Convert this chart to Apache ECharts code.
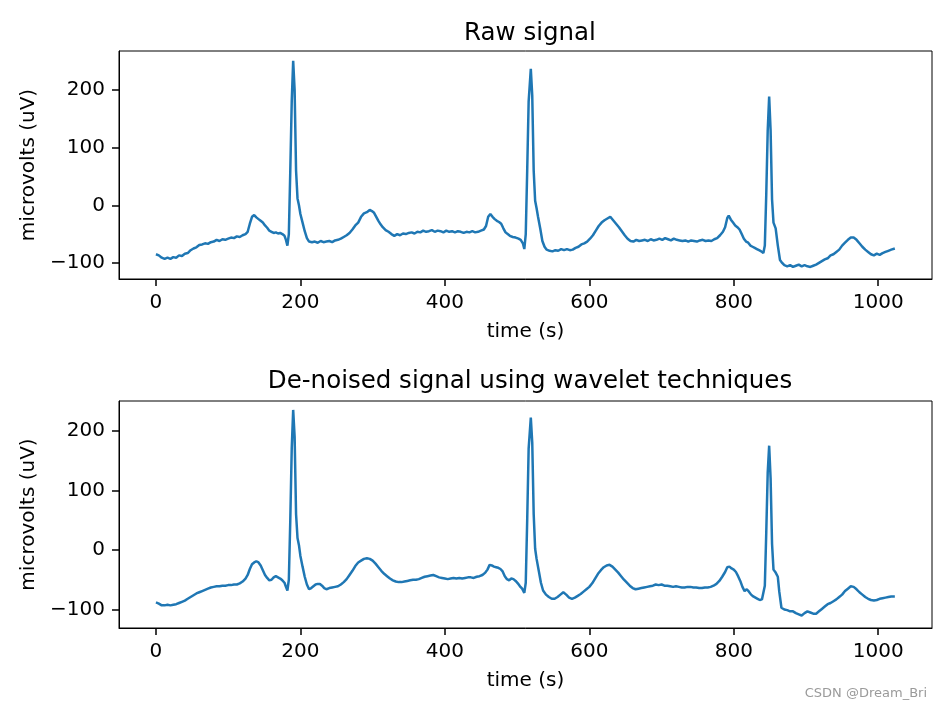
<!DOCTYPE html>
<html>
<head>
<meta charset="utf-8">
<script src="https://cdn.jsdelivr.net/npm/echarts@6/dist/echarts.min.js"></script>
<style>
html,body{margin:0;padding:0;background:#fff;}
#chart{width:944px;height:715px;}
</style>
</head>
<body>
<div id="chart"></div>
<script>
const xTicks = [0, 200, 400, 600, 800, 1000];
const yTicks = [-100, 0, 100, 200];

const rawT = [0,4,8,12,16,20,24,28,32,36,40,44,48,52,56,60,64,68,72,76,80,84,88,92,96,100,104,108,112,116,120,124,127,130,133,136,139,142,145,148,151,154,157,160,163,166,169,172,175,178,180,182,184,186,188,190,192,194,196,198,200,203,206,209,212,216,220,224,228,232,236,240,244,248,252,256,260,264,268,272,276,280,284,288,292,296,299,302,305,308,311,314,318,322,326,330,334,338,342,346,350,354,358,362,366,370,374,378,382,386,390,394,398,402,406,410,414,418,422,426,430,434,438,442,446,450,454,457,460,463,466,469,472,475,478,481,484,487,490,494,498,502,505,508,510,512,514,516,519,521,523,525,527,529,532,535,538,541,545,549,553,557,561,565,569,573,577,581,585,589,593,597,601,605,609,613,617,621,625,629,633,637,641,645,649,653,657,661,665,669,673,677,681,685,689,693,697,701,705,709,713,717,721,725,729,733,737,741,745,749,753,757,761,765,769,773,777,781,785,788,791,793,796,799,802,805,808,811,814,817,820,823,826,829,832,835,838,841,843,845,847,849,851,853,855,858,861,864,867,870,874,878,882,886,890,894,898,902,906,910,914,918,922,926,930,934,938,942,946,950,954,958,962,966,970,974,978,982,986,990,994,998,1002,1006,1010,1014,1018,1023];
const rawV = [-85,-87,-91,-93,-91,-93,-90,-91,-87,-88,-84,-83,-78,-75,-73,-69,-68,-66,-67,-64,-63,-60,-62,-59,-60,-58,-56,-57,-54,-55,-52,-50,-46,-32,-20,-17,-21,-24,-27,-30,-35,-39,-44,-46,-48,-47,-49,-48,-50,-53,-60,-70,-50,60,180,251,200,60,12,0,-15,-30,-45,-57,-63,-64,-63,-65,-62,-64,-63,-62,-64,-61,-60,-58,-55,-52,-48,-42,-35,-30,-20,-14,-12,-8,-10,-13,-20,-27,-33,-38,-43,-46,-50,-53,-50,-52,-49,-50,-48,-47,-49,-46,-47,-44,-46,-45,-43,-46,-44,-45,-47,-44,-46,-45,-47,-45,-46,-48,-46,-47,-45,-47,-46,-44,-42,-36,-20,-15,-20,-24,-27,-29,-32,-40,-47,-50,-53,-55,-56,-58,-60,-66,-76,-50,60,180,237,190,60,8,-5,-20,-40,-62,-72,-77,-79,-80,-78,-79,-76,-78,-76,-78,-77,-74,-72,-68,-66,-63,-58,-52,-44,-36,-30,-26,-23,-20,-26,-32,-38,-45,-52,-58,-62,-63,-60,-62,-61,-60,-62,-59,-61,-60,-58,-60,-57,-59,-61,-58,-60,-61,-62,-61,-63,-61,-62,-63,-61,-60,-62,-61,-62,-59,-57,-52,-46,-38,-22,-18,-25,-30,-35,-38,-42,-50,-58,-63,-65,-70,-72,-74,-76,-78,-80,-83,-70,20,130,189,130,10,-30,-40,-70,-95,-100,-104,-106,-104,-107,-105,-103,-106,-104,-106,-107,-105,-103,-100,-97,-94,-92,-87,-85,-81,-77,-70,-65,-60,-56,-56,-60,-66,-72,-77,-81,-85,-87,-84,-86,-83,-81,-79,-77,-75];

const denT = [0,4,8,12,16,20,24,28,32,36,40,44,48,52,56,60,64,68,72,76,80,84,88,92,96,100,104,108,112,116,120,124,127,130,133,136,139,142,145,148,151,154,157,160,163,166,169,172,175,178,180,182,184,186,188,190,192,194,196,198,200,203,206,209,212,215,218,221,224,227,230,233,236,240,244,248,252,256,260,264,268,272,276,280,284,288,292,296,300,304,308,312,316,320,324,328,332,336,340,344,348,352,356,360,364,368,372,376,380,384,388,392,396,400,404,408,412,416,420,424,428,432,436,440,444,448,452,456,459,462,465,468,471,474,477,480,483,486,489,492,495,498,501,504,507,510,512,514,516,519,521,523,525,527,530,533,536,540,544,548,552,556,560,564,568,572,576,580,584,588,592,596,600,604,608,612,616,620,624,628,632,636,640,644,648,652,656,660,664,668,672,676,680,684,688,692,696,700,704,708,712,716,720,724,728,732,736,740,744,748,752,756,760,764,768,772,776,780,784,788,791,794,797,800,803,806,809,812,815,818,821,824,827,830,833,836,839,841,843,845,847,849,851,853,855,858,861,863,866,870,874,878,882,886,890,894,898,902,906,910,914,918,922,926,930,934,938,942,946,950,954,958,962,966,970,974,978,982,986,990,994,998,1002,1006,1010,1014,1018,1023];
const denV = [-88,-90,-93,-93,-92,-93,-92,-91,-89,-87,-85,-82,-79,-76,-73,-71,-69,-67,-65,-63,-62,-61,-61,-60,-60,-59,-59,-58,-58,-56,-53,-48,-42,-32,-24,-21,-19,-21,-26,-34,-42,-47,-51,-50,-46,-44,-46,-48,-51,-55,-62,-68,-50,50,170,235,190,60,20,8,-10,-28,-45,-58,-66,-64,-61,-58,-57,-57,-60,-64,-66,-64,-63,-62,-61,-58,-54,-49,-42,-35,-27,-21,-18,-15,-14,-15,-18,-23,-29,-35,-40,-44,-48,-51,-53,-54,-54,-53,-52,-51,-50,-50,-49,-47,-45,-44,-43,-42,-44,-46,-47,-48,-49,-48,-47,-48,-47,-48,-47,-46,-46,-47,-45,-44,-42,-38,-33,-25,-26,-28,-29,-30,-32,-36,-44,-49,-51,-48,-49,-52,-56,-61,-65,-72,-55,50,170,222,180,60,2,-15,-35,-55,-68,-75,-79,-82,-82,-79,-75,-71,-75,-80,-82,-80,-77,-74,-70,-66,-62,-56,-48,-40,-34,-29,-26,-25,-28,-33,-38,-44,-50,-55,-60,-64,-66,-65,-64,-63,-62,-61,-60,-58,-59,-58,-60,-60,-61,-62,-61,-62,-63,-63,-62,-62,-63,-63,-64,-64,-63,-63,-62,-60,-57,-52,-45,-37,-29,-28,-31,-33,-37,-44,-52,-62,-69,-66,-70,-75,-78,-80,-82,-84,-83,-80,-60,30,130,175,120,10,-33,-38,-45,-70,-97,-100,-101,-103,-103,-106,-108,-110,-106,-103,-105,-107,-107,-103,-99,-95,-91,-89,-86,-83,-79,-75,-69,-65,-61,-62,-66,-71,-75,-79,-82,-84,-85,-84,-82,-81,-80,-79,-78,-78];

const pairs = (t, v) => t.map((x, i) => [x, v[i]]);
const FONT = 'DejaVu Sans';
const textBase = {fontFamily: FONT, color: '#000', fontSize: 20};
const plain = v => String(v).replace('-', '\u2212');

function xAxisFor(idx) {
  return {
    type: 'value', gridIndex: idx, min: -51.15, max: 1074.45,
    axisLine: {show: true, onZero: false, lineStyle: {color: '#000', width: 1}},
    axisTick: {show: true, length: 7, customValues: xTicks, lineStyle: {color: '#000', width: 1.5}},
    axisLabel: Object.assign({customValues: xTicks, margin: 14, formatter: plain}, textBase),
    splitLine: {show: false},
    name: 'time (s)', nameLocation: 'middle', nameGap: 43,
    nameTextStyle: Object.assign({}, textBase)
  };
}
function yAxisFor(idx, mn, mx) {
  return {
    type: 'value', gridIndex: idx, min: mn, max: mx,
    axisLine: {show: true, onZero: false, lineStyle: {color: '#000', width: 1}},
    axisTick: {show: true, length: 7, customValues: yTicks, lineStyle: {color: '#000', width: 1.5}},
    axisLabel: Object.assign({customValues: yTicks, margin: 14, formatter: plain}, textBase),
    splitLine: {show: false},
    name: 'microvolts (uV)', nameLocation: 'middle', nameGap: 79, nameRotate: 90,
    nameTextStyle: Object.assign({}, textBase)
  };
}

const chart = echarts.init(document.getElementById('chart'), null, {renderer: 'canvas'});
chart.setOption({
  animation: false,
  backgroundColor: '#fff',
  title: [
    {text: 'Raw signal', left: 525, top: 16, textAlign: 'center',
     textStyle: {fontFamily: FONT, fontSize: 24.5, fontWeight: 'normal', color: '#000'}},
    {text: 'De-noised signal using wavelet techniques', left: 525, top: 364, textAlign: 'center',
     textStyle: {fontFamily: FONT, fontSize: 24.5, fontWeight: 'normal', color: '#000'}},
    {text: 'CSDN @Dream_Bri', right: 12, bottom: 10,
     textStyle: {fontFamily: FONT, fontSize: 13, fontWeight: 'normal', color: '#9a9a9a'}}
  ],
  grid: [
    {left: 119, top: 51, width: 813, height: 228, show: true, borderColor: '#000', borderWidth: 1, containLabel: false},
    {left: 119, top: 401, width: 813, height: 227, show: true, borderColor: '#000', borderWidth: 1, containLabel: false}
  ],
  xAxis: [xAxisFor(0), xAxisFor(1)],
  yAxis: [yAxisFor(0, -128, 268), yAxisFor(1, -131, 250)],
  series: [
    {type: 'line', xAxisIndex: 0, yAxisIndex: 0, data: pairs(rawT, rawV), showSymbol: false,
     lineStyle: {color: '#1f77b4', width: 2.5}, itemStyle: {color: '#1f77b4'}},
    {type: 'line', xAxisIndex: 1, yAxisIndex: 1, data: pairs(denT, denV), showSymbol: false,
     lineStyle: {color: '#1f77b4', width: 2.5}, itemStyle: {color: '#1f77b4'}}
  ]
});
</script>
</body>
</html>
